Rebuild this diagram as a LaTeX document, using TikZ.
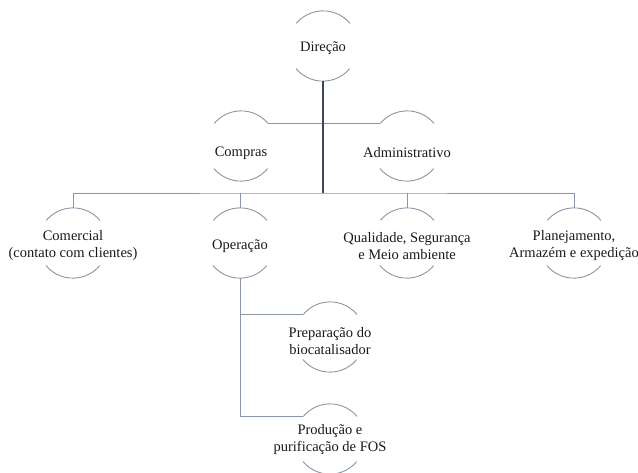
\documentclass[tikz,border=0pt]{standalone}
\usepackage{fontspec}
\setmainfont{Liberation Serif}
\begin{document}
\begin{tikzpicture}[x=1pt,y=-1pt,
  ring/.style={circle,minimum size=70pt,inner sep=0pt},
  caption/.style={align=center,inner sep=0pt,
    font=\fontsize{14.5}{17}\selectfont,text=black!90},
  rim/.style={draw=arcgray,line width=0.9pt},
  link/.style={draw=arcgray,line width=0.9pt},
  trunk/.style={draw=trunkgray,line width=1.4pt}]
\definecolor{arcgray}{HTML}{8A95A5}
\definecolor{trunkgray}{HTML}{3C4658}
\useasboundingbox (0,0) rectangle (638,472);
\clip (0,0) rectangle (638,472);

% units of the organisation (fixed-size rings)
\node[ring] (dir)  at (323,46)  {};
\node[ring] (comp) at (241,146) {};
\node[ring] (adm)  at (407,146) {};
\node[ring] (com)  at (73,243)  {};
\node[ring] (ope)  at (240,243) {};
\node[ring] (qua)  at (407,243) {};
\node[ring] (pla)  at (574,243) {};
\node[ring] (pre)  at (330,337) {};
\node[ring] (pro)  at (330,439) {};

% names of the units
\node[caption] (dir-t)  at ([yshift=-2pt]dir)  {Direção};
\node[caption] (comp-t) at ([yshift=-7pt]comp) {Compras};
\node[caption] (adm-t)  at ([yshift=-7pt]adm)  {Administrativo};
\node[caption] (com-t)  at ([yshift=-3pt]com)  {Comercial\\(contato com clientes)};
\node[caption] (ope-t)  at ([yshift=-3pt]ope)  {Operação};
\node[caption] (qua-t)  at ([yshift=-3pt]qua)  {Qualidade, Segurança\\e Meio ambiente};
\node[caption] (pla-t)  at ([yshift=-3pt]pla)  {Planejamento,\\Armazém e expedição};
\node[caption] (pre-t)  at ([yshift=-4pt]pre)  {Preparação do\\biocatalisador};
\node[caption] (pro-t)  at ([yshift=-1pt]pro)  {Produção e\\purificação de FOS};

% upper and lower rims of each unit
\foreach \n in {dir,comp,adm,com,ope,qua,pla,pre,pro}{
  \draw[rim] (\n.40) arc[start angle=40,end angle=140,radius=35pt];
  \draw[rim] (\n.220) arc[start angle=220,end angle=320,radius=35pt];
}

% branch bar of the third level
\coordinate (bar) at (323,193);

% staff units beside the direction
\draw[link] (comp.40) -- (adm.140);

% line manager branches
\draw[link] (com.north) |- (bar) -| (pla.north);
\draw[link] (ope.north) -- (ope.north |- bar);
\draw[link] (qua.north) -- (qua.north |- bar);

% main trunk from the direction
\draw[trunk] (dir.south) -- (bar);

% operation subunits
\draw[link] (ope.south) |- (pre.140);
\draw[link] (ope.south) |- (pro.140);
\end{tikzpicture}
\end{document}
